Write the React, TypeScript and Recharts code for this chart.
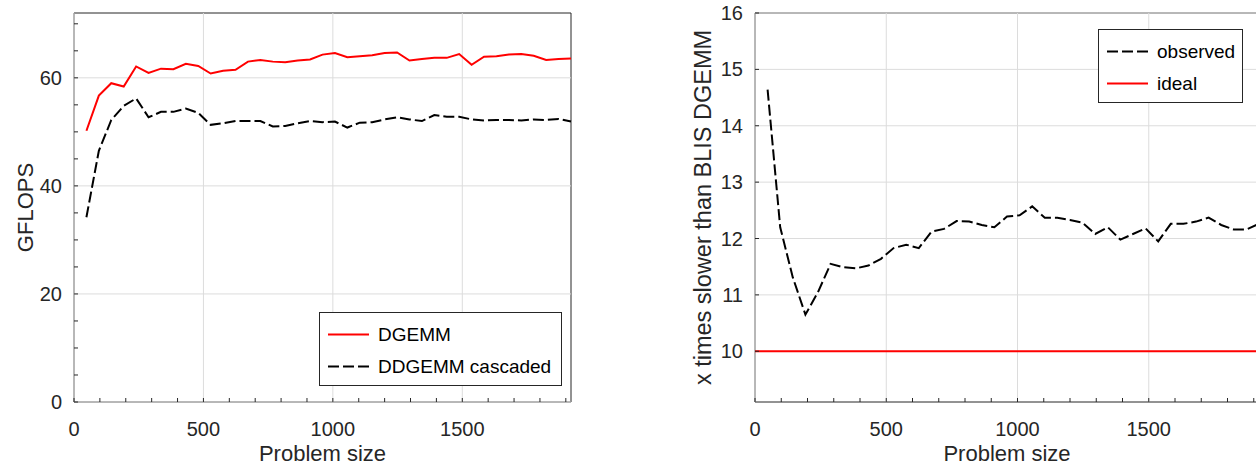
import React from "react";
import {
    LineChart,
    Line,
    XAxis,
    YAxis,
    ReferenceLine,
    ReferenceArea,
    Legend,
} from "recharts";

const problemSizes = [
    48, 96, 144, 192, 240, 288, 336, 384, 432, 480,
    528, 576, 624, 672, 720, 768, 816, 864, 912, 960,
    1008, 1056, 1104, 1152, 1200, 1248, 1296, 1344, 1392, 1440,
    1488, 1536, 1584, 1632, 1680, 1728, 1776, 1824, 1872, 1920,
];
const dgemmGflops = [
    50.2, 56.7, 59.0, 58.4, 62.1, 60.9, 61.7, 61.6, 62.6, 62.2,
    60.8, 61.3, 61.5, 63.0, 63.3, 63.0, 62.9, 63.2, 63.4, 64.3,
    64.6, 63.8, 64.0, 64.2, 64.6, 64.7, 63.2, 63.5, 63.7, 63.7,
    64.4, 62.4, 63.9, 64.0, 64.3, 64.4, 64.1, 63.3, 63.5, 63.6,
];
const ddgemmGflops = [
    34.2, 46.5, 52.2, 54.8, 56.2, 52.7, 53.7, 53.7, 54.3, 53.5,
    51.3, 51.6, 52.0, 52.0, 52.0, 51.0, 51.1, 51.6, 52.0, 51.8,
    51.9, 50.8, 51.7, 51.8, 52.3, 52.7, 52.3, 52.0, 53.1, 52.8,
    52.8, 52.3, 52.1, 52.2, 52.2, 52.1, 52.3, 52.2, 52.4, 51.9,
];
const observedSlowdown = [
    14.64, 12.2, 11.31, 10.65, 11.05, 11.55, 11.49, 11.47, 11.52, 11.64,
    11.83, 11.89, 11.83, 12.12, 12.17, 12.31, 12.3, 12.24, 12.2, 12.39,
    12.41, 12.57, 12.37, 12.37, 12.33, 12.28, 12.08, 12.2, 11.98, 12.08,
    12.18, 11.95, 12.26, 12.26, 12.3, 12.37, 12.24, 12.16, 12.16, 12.26,
];
const idealSizes = [0, 1920];
const idealSlowdown = [10, 10];

const xMajorTicks = [0, 500, 1000, 1500];
const xMinorTicks = [0, 100, 200, 300, 400, 500, 600, 700, 800, 900, 1000,
    1100, 1200, 1300, 1400, 1500, 1600, 1700, 1800, 1900];
const gflopsMajorTicks = [0, 20, 40, 60];
const gflopsMinorTicks = [0, 5, 10, 15, 20, 25, 30, 35, 40, 45, 50, 55, 60, 65, 70];
const slowdownTicks = [10, 11, 12, 13, 14, 15, 16];

const gflopsData = problemSizes.map((n, i) => ({
    n,
    dgemm: dgemmGflops[i],
    ddgemm: ddgemmGflops[i],
}));
const slowdownData = problemSizes.map((n, i) => ({n, observed: observedSlowdown[i]}));
const idealData = idealSizes.map((n, i) => ({n, ideal: idealSlowdown[i]}));

const AXIS = "#262626";
const GRID = "#dcdcdc";
const DASH = "11 4";
const FONT = "'Liberation Sans', Arial, Helvetica, sans-serif";
const tickStyle = {fill: AXIS, fontSize: 20};

const YTitle = ({viewBox, value, baseX, size}: any) => {
    const cx = viewBox.x + baseX;
    const cy = viewBox.y + viewBox.height / 2;
    return (
        <text x={cx} y={cy} transform={`rotate(-90 ${cx} ${cy})`} textAnchor="middle"
              fontSize={size} fill={AXIS}>
            {value}
        </text>
    );
};

type Entry = { label: string; color: string; dash?: string };

const LegendBox = ({entries, width}: { entries: Entry[]; width: number }) => (
    <svg width={width} height={74} style={{display: "block"}}>
        <rect x={0.5} y={0.5} width={width - 1} height={73} fill="#fff" stroke={AXIS}/>
        {entries.map((e, i) => {
            const cy = 22.5 + i * 32;
            return (
                <g key={e.label}>
                    <line x1={9} x2={50} y1={cy} y2={cy} stroke={e.color} strokeWidth={2}
                          strokeDasharray={e.dash}/>
                    <text x={59} y={cy} dominantBaseline="central" fontSize={19} fill="#000">
                        {e.label}
                    </text>
                </g>
            );
        })}
    </svg>
);

const xLabelFormat = (v: number) => (v % 500 === 0 ? String(v) : "");

const gridLines = (xs: number[], ys: number[]) => [
    ...xs.map((x) => <ReferenceLine key={`gx${x}`} x={x} stroke={GRID} strokeWidth={1}/>),
    ...ys.map((y) => <ReferenceLine key={`gy${y}`} y={y} stroke={GRID} strokeWidth={1}/>),
];

function GflopsChart() {
    return (
        <LineChart width={600} height={465} data={gflopsData}
                   margin={{top: 13, right: 29, bottom: 0, left: 0}}>
            <XAxis dataKey="n" type="number" domain={[0, 1920]} ticks={xMinorTicks} interval={0}
                   tickFormatter={xLabelFormat} tick={tickStyle} axisLine={false}
                   tickLine={{stroke: AXIS}} tickSize={-4} tickMargin={24} height={63}
                   label={{value: "Problem size", position: "insideBottom", offset: 4, fontSize: 22, fill: AXIS}}/>
            <XAxis xAxisId="top" orientation="top" dataKey="n" type="number" domain={[0, 1920]}
                   ticks={xMajorTicks} interval={0} tick={false} axisLine={false}
                   tickLine={{stroke: AXIS}} tickSize={-4} height={0}/>
            <YAxis type="number" domain={[0, 72]} ticks={gflopsMinorTicks} interval={0}
                   tickFormatter={(v: number) => (v % 20 === 0 ? String(v) : "")}
                   tick={tickStyle} axisLine={false} tickLine={{stroke: AXIS}} tickSize={-4}
                   tickMargin={16} width={74}
                   label={<YTitle value="GFLOPS" baseX={33} size={22}/>}/>
            <YAxis yAxisId="right" orientation="right" type="number" domain={[0, 72]}
                   ticks={gflopsMajorTicks} interval={0} tick={false} axisLine={false}
                   tickLine={{stroke: AXIS}} tickSize={-4} width={0}/>
            {gridLines(xMajorTicks, gflopsMajorTicks)}
            <Line type="linear" dataKey="dgemm" name="DGEMM" stroke="#ff0000" strokeWidth={2}
                  dot={false} isAnimationActive={false}/>
            <Line type="linear" dataKey="ddgemm" name="DDGEMM cascaded" stroke="#000" strokeWidth={2}
                  strokeDasharray={DASH} dot={false} isAnimationActive={false}/>
            <ReferenceArea x1={0} x2={1920} y1={0} y2={72} fill="none" stroke={AXIS}
                           strokeWidth={1} fillOpacity={0}/>
            <Legend layout="vertical" align="center" verticalAlign="middle"
                    wrapperStyle={{left: 319, top: 312, width: 243, height: 74}}
                    content={() => (
                        <LegendBox width={243} entries={[
                            {label: "DGEMM", color: "#ff0000"},
                            {label: "DDGEMM cascaded", color: "#000", dash: DASH},
                        ]}/>
                    )}/>
        </LineChart>
    );
}

function SlowdownChart() {
    return (
        <LineChart width={640} height={465} data={slowdownData}
                   margin={{top: 13, right: 21, bottom: 0, left: 0}}>
            <XAxis dataKey="n" type="number" domain={[0, 1920]} ticks={xMinorTicks} interval={0}
                   tickFormatter={xLabelFormat} tick={tickStyle} axisLine={false}
                   tickLine={{stroke: AXIS}} tickSize={-4} tickMargin={24} height={63}
                   label={{value: "Problem size", position: "insideBottom", offset: 4, fontSize: 22, fill: AXIS}}/>
            <XAxis xAxisId="top" orientation="top" dataKey="n" type="number" domain={[0, 1920]}
                   ticks={xMajorTicks} interval={0} tick={false} axisLine={false}
                   tickLine={{stroke: AXIS}} tickSize={-4} height={0}/>
            <YAxis type="number" domain={[9.1, 16]} ticks={slowdownTicks} interval={0}
                   tick={tickStyle} axisLine={false} tickLine={{stroke: AXIS}} tickSize={-4}
                   tickMargin={16} width={115}
                   label={<YTitle value="x times slower than BLIS DGEMM" baseX={71} size={23.5}/>}/>
            <YAxis yAxisId="right" orientation="right" type="number" domain={[9.1, 16]}
                   ticks={slowdownTicks} interval={0} tick={false} axisLine={false}
                   tickLine={{stroke: AXIS}} tickSize={-4} width={0}/>
            {gridLines(xMajorTicks, slowdownTicks)}
            <Line type="linear" dataKey="observed" name="observed" stroke="#000" strokeWidth={2}
                  strokeDasharray={DASH} dot={false} isAnimationActive={false}/>
            <Line type="linear" data={idealData} dataKey="ideal" name="ideal" stroke="#ff0000"
                  strokeWidth={2} dot={false} isAnimationActive={false}/>
            <ReferenceArea x1={0} x2={1920} y1={9.1} y2={16} fill="none" stroke={AXIS}
                           strokeWidth={1} fillOpacity={0}/>
            <Legend layout="vertical" align="center" verticalAlign="middle"
                    wrapperStyle={{left: 458, top: 29, width: 145, height: 74}}
                    content={() => (
                        <LegendBox width={145} entries={[
                            {label: "observed", color: "#000", dash: DASH},
                            {label: "ideal", color: "#ff0000"},
                        ]}/>
                    )}/>
        </LineChart>
    );
}

export default function App() {
    return (
        <div style={{
            position: "absolute", left: 0, top: 0, width: 1256, height: 465,
            overflow: "hidden", background: "#fff", fontFamily: FONT,
        }}>
            <div style={{position: "absolute", left: 0, top: 0}}>
                <GflopsChart/>
            </div>
            <div style={{position: "absolute", left: 640, top: 0}}>
                <SlowdownChart/>
            </div>
        </div>
    );
}
